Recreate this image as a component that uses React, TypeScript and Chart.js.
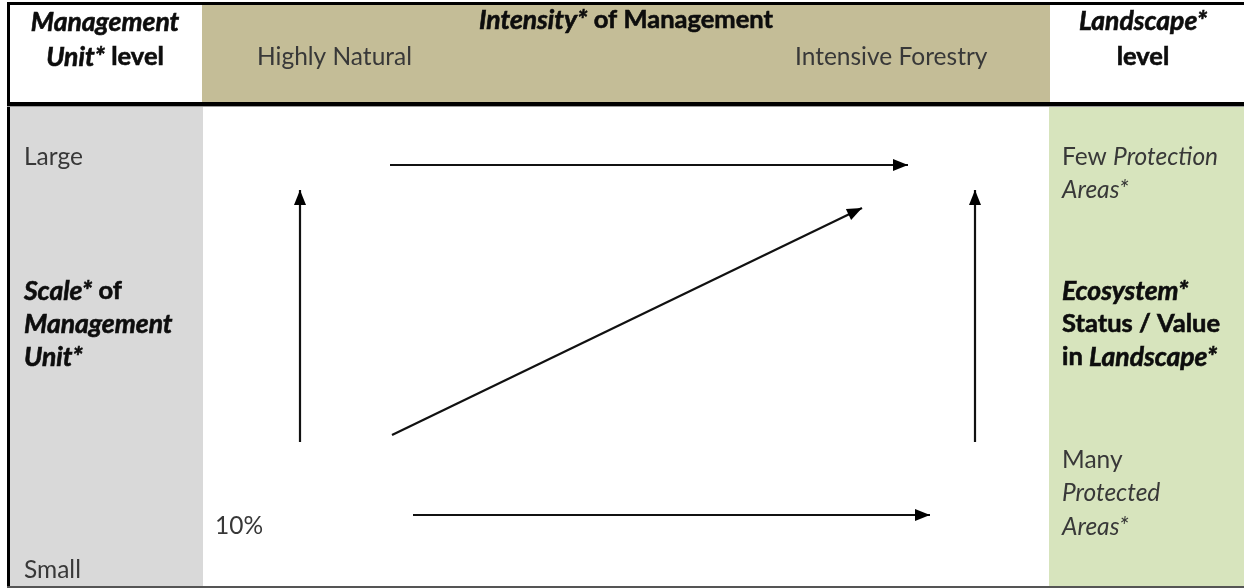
import React, { useEffect, useRef } from "react";
import { Chart, registerables } from "chart.js";

Chart.register(...registerables);

// ---- Diagram data (in diagram units: x 0..1244, y 0..588 from the top) ----
const panelX = [8, 203, 1049, 1244]; // column boundaries
const headerY = [4, 104, 587]; // row boundaries
const panelColors = { headerLeft: "#ffffff", headerMid: "#c4bd97", headerRight: "#ffffff", bodyLeft: "#d9d9d9", bodyMid: "#ffffff", bodyRight: "#d7e4bd" };

const arrowTopRow = [{ x: 390, y: 165 }, { x: 908, y: 165 }];
const arrowLeftUp = [{ x: 300, y: 442 }, { x: 300, y: 190 }];
const arrowDiagonal = [{ x: 392, y: 435 }, { x: 862, y: 208 }];
const arrowRightUp = [{ x: 975, y: 442 }, { x: 975, y: 190 }];
const arrowBottomRow = [{ x: 413, y: 515 }, { x: 930, y: 515 }];
const arrows = [arrowTopRow, arrowLeftUp, arrowDiagonal, arrowRightUp, arrowBottomRow];

type Run = { t: string; b?: boolean; i?: boolean };
type Label = { x: number; y: number; align: "left" | "center"; runs: Run[] };

const headerLabels: Label[] = [
  { x: 105, y: 22, align: "center", runs: [{ t: "Management", b: true, i: true }] },
  { x: 105, y: 57, align: "center", runs: [{ t: "Unit*", b: true, i: true }, { t: " level", b: true }] },
  { x: 626, y: 20, align: "center", runs: [{ t: "Intensity*", b: true, i: true }, { t: " of Management", b: true }] },
  { x: 257, y: 57, align: "left", runs: [{ t: "Highly Natural" }] },
  { x: 795, y: 57, align: "left", runs: [{ t: "Intensive Forestry" }] },
  { x: 1143, y: 21, align: "center", runs: [{ t: "Landscape*", b: true, i: true }] },
  { x: 1143, y: 57, align: "center", runs: [{ t: "level", b: true }] },
];

const scaleLabels: Label[] = [
  { x: 24, y: 157, align: "left", runs: [{ t: "Large" }] },
  { x: 24, y: 291, align: "left", runs: [{ t: "Scale*", b: true, i: true }, { t: " of", b: true }] },
  { x: 24, y: 324, align: "left", runs: [{ t: "Management", b: true, i: true }] },
  { x: 24, y: 357, align: "left", runs: [{ t: "Unit*", b: true, i: true }] },
  { x: 24, y: 570, align: "left", runs: [{ t: "Small" }] },
  { x: 215, y: 526, align: "left", runs: [{ t: "10%" }] },
];

const landscapeLabels: Label[] = [
  { x: 1062, y: 157, align: "left", runs: [{ t: "Few " }, { t: "Protection", i: true }] },
  { x: 1062, y: 190, align: "left", runs: [{ t: "Areas*", i: true }] },
  { x: 1062, y: 291, align: "left", runs: [{ t: "Ecosystem*", b: true, i: true }] },
  { x: 1062, y: 324, align: "left", runs: [{ t: "Status / Value", b: true }] },
  { x: 1062, y: 357, align: "left", runs: [{ t: "in ", b: true }, { t: "Landscape*", b: true, i: true }] },
  { x: 1062, y: 460, align: "left", runs: [{ t: "Many" }] },
  { x: 1062, y: 493, align: "left", runs: [{ t: "Protected", i: true }] },
  { x: 1062, y: 527, align: "left", runs: [{ t: "Areas*", i: true }] },
];

const FONT_FAMILY = "Lato, 'Open Sans', sans-serif";

function fontFor(r: Run) {
  const size = r.b && r.i ? 26.5 : r.b ? 25.5 : 24.5;
  return `${r.i ? "italic " : ""}${r.b ? "bold " : ""}${size}px ${FONT_FAMILY}`;
}

const diagramPlugin = {
  id: "diagram",
  beforeDatasetsDraw(chart: any) {
    const { ctx, scales } = chart;
    const sx = (v: number) => scales.x.getPixelForValue(v);
    const sy = (v: number) => scales.y.getPixelForValue(v);
    ctx.save();
    const rect = (x0: number, y0: number, x1: number, y1: number, c: string) => {
      ctx.fillStyle = c;
      ctx.fillRect(sx(x0), sy(y0), sx(x1) - sx(x0), sy(y1) - sy(y0));
    };
    rect(panelX[0], headerY[0], panelX[1], headerY[1], panelColors.headerLeft);
    rect(panelX[1] - 1, headerY[0], panelX[2] + 1, headerY[1], panelColors.headerMid);
    rect(panelX[2] + 1, headerY[0], panelX[3], headerY[1], panelColors.headerRight);
    rect(panelX[0], headerY[1], panelX[1], headerY[2], panelColors.bodyLeft);
    rect(panelX[1], headerY[1], panelX[2], headerY[2], panelColors.bodyMid);
    rect(panelX[2], headerY[1], panelX[3], headerY[2], panelColors.bodyRight);

    // borders
    ctx.fillStyle = "#000";
    ctx.fillRect(sx(7), sy(2), sx(1244) - sx(7), 3); // top
    ctx.fillRect(sx(7), sy(2), 3, sy(588) - sy(2)); // left
    ctx.fillRect(sx(7), sy(102), sx(1244) - sx(7), 4); // header separator
    ctx.fillStyle = "#9a9a9a";
    ctx.fillRect(sx(7), sy(106), sx(1244) - sx(7), 1);
    ctx.fillStyle = "#555";
    ctx.fillRect(sx(7), sy(586), sx(1244) - sx(7), 2); // bottom

    // texts
    ctx.textBaseline = "middle";
    ctx.textAlign = "left";
    const draw = (l: Label) => {
      let total = 0;
      for (const r of l.runs) {
        ctx.font = fontFor(r);
        total += ctx.measureText(r.t).width;
      }
      let x = l.align === "center" ? sx(l.x) - total / 2 : sx(l.x);
      for (const r of l.runs) {
        ctx.font = fontFor(r);
        ctx.fillStyle = r.b ? "#0d0d0d" : "#383838";
        ctx.fillText(r.t, x, sy(l.y));
        if (r.b) {
          ctx.strokeStyle = "#0d0d0d";
          ctx.lineWidth = 0.6;
          ctx.strokeText(r.t, x, sy(l.y));
        }
        x += ctx.measureText(r.t).width;
      }
    };
    [...headerLabels, ...scaleLabels, ...landscapeLabels].forEach(draw);
    ctx.restore();
  },
  afterDatasetsDraw(chart: any) {
    const { ctx, scales } = chart;
    ctx.save();
    ctx.fillStyle = "#000";
    chart.data.datasets.forEach((ds: any) => {
      const pts = ds.data;
      const a = pts[0];
      const b = pts[pts.length - 1];
      const ax = scales.x.getPixelForValue(a.x), ay = scales.y.getPixelForValue(a.y);
      const bx = scales.x.getPixelForValue(b.x), by = scales.y.getPixelForValue(b.y);
      const ang = Math.atan2(by - ay, bx - ax);
      const len = 15, half = 6;
      ctx.beginPath();
      ctx.moveTo(bx, by);
      ctx.lineTo(bx - len * Math.cos(ang) + half * Math.sin(ang), by - len * Math.sin(ang) - half * Math.cos(ang));
      ctx.lineTo(bx - len * Math.cos(ang) - half * Math.sin(ang), by - len * Math.sin(ang) + half * Math.cos(ang));
      ctx.closePath();
      ctx.fill();
    });
    ctx.restore();
  },
};

export default function App() {
  const ref = useRef<HTMLCanvasElement | null>(null);
  useEffect(() => {
    document.body.style.margin = "0";
    if (!ref.current) return;
    const chart = new Chart(ref.current, {
      type: "scatter",
      data: {
        datasets: arrows.map((pts) => ({
          data: pts,
          showLine: true,
          borderColor: "#111",
          borderWidth: 2.2,
          pointRadius: 0,
          fill: false,
        })),
      },
      options: {
        animation: false,
        responsive: false,
        events: [],
        layout: { padding: 0 },
        plugins: { legend: { display: false }, tooltip: { enabled: false } },
        scales: {
          x: { type: "linear", min: 0, max: 1244, display: false },
          y: { type: "linear", min: 0, max: 588, reverse: true, display: false },
        },
      },
      plugins: [diagramPlugin],
    });
    return () => chart.destroy();
  }, []);
  return (
    <div style={{ width: 1244, height: 588, background: "#fff" }}>
      <canvas ref={ref} width={1244} height={588} />
    </div>
  );
}
